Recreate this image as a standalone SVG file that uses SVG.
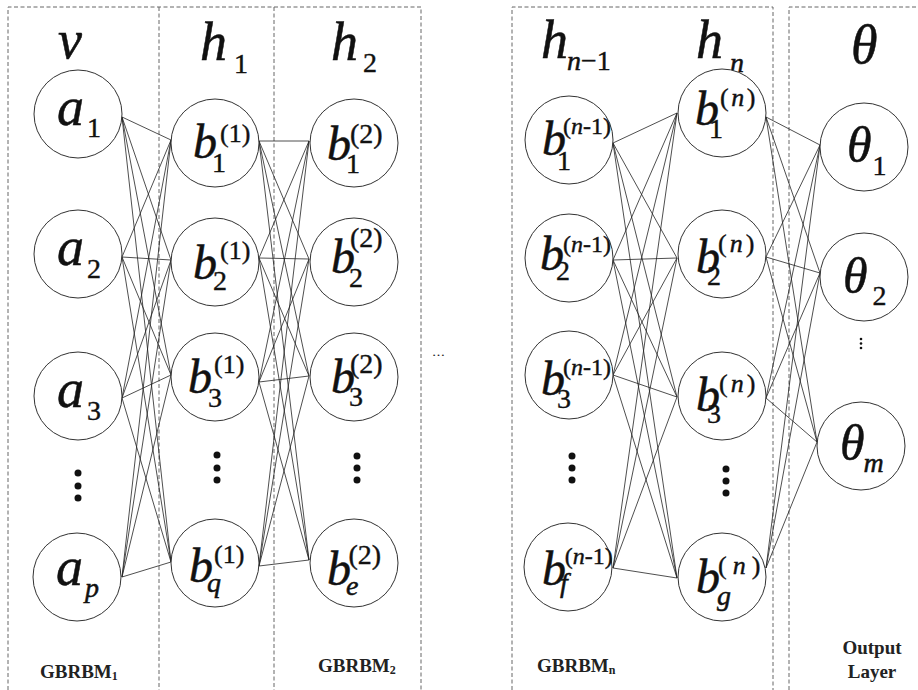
<svg xmlns="http://www.w3.org/2000/svg" width="918" height="690" viewBox="0 0 918 690">
<style>
.bg{fill:#fff}
.box{fill:none;stroke:#666;stroke-width:1;stroke-dasharray:4 2.5}
.edge{fill:none;stroke:#222;stroke-width:0.8}
.node{fill:#fff;stroke:#333;stroke-width:1}
.it{font-family:"Liberation Serif","Times New Roman",serif;font-style:italic;fill:#111;stroke:#111;stroke-width:0.5}
.rm{font-family:"Liberation Serif","Times New Roman",serif;font-style:normal;fill:#111;stroke:#111;stroke-width:0.4}
.ii{font-style:italic}
.big{font-size:54px}
.bb{font-size:48px}
.sub{font-size:28px}
.sup{font-size:26px}
.sup2{font-size:28px}
.supn{font-size:24px}
.th{font-size:50px}
.bd{font-family:"Liberation Serif","Times New Roman",serif;font-weight:bold;font-size:19px;fill:#222}
.bds{font-size:12px}
.dot{fill:#111}
</style>
<rect class="bg" x="0" y="0" width="918" height="690"/>
<g id="frames">
<path class="box" d="M8 690 V7 H421 V690 M159 7 V690 M274 7 V690"/>
<path class="box" d="M512 690 V7 H773 V690"/>
<path class="box" d="M789 690 V7 H918"/>
</g>
<g id="connectors">
<path class="edge" d="M122 117 L171 140 M122 117 L171 260 M122 117 L171 375 M122 117 L171 562"/>
<path class="edge" d="M122 257 L171 140 M122 257 L171 260 M122 257 L171 375 M122 257 L171 562"/>
<path class="edge" d="M122 398 L171 140 M122 398 L171 260 M122 398 L171 375 M122 398 L171 562"/>
<path class="edge" d="M122 577 L171 140 M122 577 L171 260 M122 577 L171 375 M122 577 L171 562"/>
<path class="edge" d="M259 141 L309 141 M259 141 L309 259 M259 141 L309 376 M259 141 L309 560"/>
<path class="edge" d="M259 258 L309 141 M259 258 L309 259 M259 258 L309 376 M259 258 L309 560"/>
<path class="edge" d="M259 382 L309 141 M259 382 L309 259 M259 382 L309 376 M259 382 L309 560"/>
<path class="edge" d="M259 566 L309 141 M259 566 L309 259 M259 566 L309 376 M259 566 L309 560"/>
<path class="edge" d="M613 143 L677 113 M613 143 L677 258 M613 143 L677 397 M613 143 L677 578"/>
<path class="edge" d="M613 260 L677 113 M613 260 L677 258 M613 260 L677 397 M613 260 L677 578"/>
<path class="edge" d="M613 375 L677 113 M613 375 L677 258 M613 375 L677 397 M613 375 L677 578"/>
<path class="edge" d="M613 568 L677 113 M613 568 L677 258 M613 568 L677 397 M613 568 L677 578"/>
<path class="edge" d="M766 117 L820 145 M766 117 L820 273 M766 117 L817 442"/>
<path class="edge" d="M766 257 L820 145 M766 257 L820 273 M766 257 L817 442"/>
<path class="edge" d="M766 398 L820 145 M766 398 L820 273 M766 398 L817 442"/>
<path class="edge" d="M766 568 L820 145 M766 568 L820 273 M766 568 L817 442"/>
</g>
<g id="layer-v"><text class="it big" x="58" y="58">v</text></g>
<g id="a1"><circle class="node" cx="78" cy="114" r="44"/><text class="it big" x="57" y="125">a<tspan class="rm sub" dx="3" dy="12">1</tspan></text></g>
<g id="a2"><circle class="node" cx="78" cy="254" r="44"/><text class="it big" x="57" y="265">a<tspan class="rm sub" dx="3" dy="13">2</tspan></text></g>
<g id="a3"><circle class="node" cx="78" cy="396" r="44"/><text class="it big" x="57" y="407">a<tspan class="rm sub" dx="3" dy="13">3</tspan></text></g>
<g id="ap"><circle class="node" cx="77" cy="577" r="44"/><text class="it big" x="56" y="585">a<tspan class="sub" dx="2" dy="12">p</tspan></text></g>
<g id="v-dots"><circle class="dot" cx="78" cy="473" r="3.5"/><circle class="dot" cx="78" cy="486" r="3.5"/><circle class="dot" cx="78" cy="498" r="3.5"/></g>

<g id="layer-h1"><text class="it big" x="200" y="60">h<tspan class="rm sub" dx="7" dy="13">1</tspan></text></g>
<g id="b1_1"><circle class="node" cx="215" cy="143" r="44"/><text class="it bb" x="193" y="158">b<tspan class="rm sub" dx="-5" dy="14">1</tspan><tspan class="rm sup" dx="-6" dy="-30">(1)</tspan></text></g>
<g id="b2_1"><circle class="node" cx="215" cy="262" r="44"/><text class="it bb" x="193" y="279">b<tspan class="rm sub" dx="-4" dy="11">2</tspan><tspan class="rm sup" dx="-7" dy="-31">(1)</tspan></text></g>
<g id="b3_1"><circle class="node" cx="215" cy="377" r="44"/><text class="it bb" x="188" y="393">b<tspan class="rm sub" dx="-4" dy="14">3</tspan><tspan class="rm sup" dx="-8" dy="-34">(1)</tspan></text></g>
<g id="bq_1"><circle class="node" cx="215" cy="563" r="44"/><text class="it bb" x="189" y="582">b<tspan class="sub" dx="-6" dy="10">q</tspan><tspan class="rm sup" dx="-7" dy="-29">(1)</tspan></text></g>
<g id="h1-dots"><circle class="dot" cx="217" cy="455" r="3.5"/><circle class="dot" cx="217" cy="468" r="3.5"/><circle class="dot" cx="217" cy="480" r="3.5"/></g>

<g id="layer-h2"><text class="it big" x="331" y="60">h<tspan class="rm sub" dx="5" dy="12">2</tspan></text></g>
<g id="b1_2"><circle class="node" cx="354" cy="143" r="44"/><text class="it bb" x="327" y="160">b<tspan class="rm sub" dx="-5" dy="13">1</tspan><tspan class="rm sup2" dx="-10" dy="-30">(2)</tspan></text></g>
<g id="b2_2"><circle class="node" cx="354" cy="262" r="44"/><text class="it bb" x="331" y="273">b<tspan class="rm sub" dx="-6" dy="14">2</tspan><tspan class="rm sup2" dx="-13" dy="-40">(2)</tspan></text></g>
<g id="b3_2"><circle class="node" cx="354" cy="377" r="44"/><text class="it bb" x="331" y="393">b<tspan class="rm sub" dx="-6" dy="13">3</tspan><tspan class="rm sup2" dx="-13" dy="-33">(2)</tspan></text></g>
<g id="be_2"><circle class="node" cx="354" cy="563" r="44"/><text class="it bb" x="327" y="585">b<tspan class="sub" dx="-5" dy="10">e</tspan><tspan class="rm sup2" dx="-10" dy="-31">(2)</tspan></text></g>
<g id="h2-dots"><circle class="dot" cx="357" cy="456" r="3.5"/><circle class="dot" cx="357" cy="468" r="3.5"/><circle class="dot" cx="357" cy="480" r="3.5"/></g>

<g id="ellipsis"><text class="rm" x="432" y="356" style="font-size:13px;stroke-width:0.2">…</text></g>

<g id="layer-hn1"><text class="it big" x="541" y="58">h<tspan class="sub" dx="-1" dy="12">n</tspan><tspan class="rm sub">−1</tspan></text></g>
<g id="b1_n1"><circle class="node" cx="569" cy="140" r="44"/><text class="it bb" x="542" y="155">b<tspan class="rm sub" dx="-9" dy="15">1</tspan><tspan class="rm supn" dx="-8" dy="-36">(<tspan class="ii">n</tspan>-1)</tspan></text></g>
<g id="b2_n1"><circle class="node" cx="569" cy="258" r="44"/><text class="it bb" x="540" y="270">b<tspan class="rm sub" dx="-8" dy="10">2</tspan><tspan class="rm supn" dx="-7" dy="-28">(<tspan class="ii">n</tspan>-1)</tspan></text></g>
<g id="b3_n1"><circle class="node" cx="569" cy="375" r="44"/><text class="it bb" x="541" y="395">b<tspan class="rm sub" dx="-8" dy="13">3</tspan><tspan class="rm supn" dx="-8" dy="-33">(<tspan class="ii">n</tspan>-1)</tspan></text></g>
<g id="bf_n1"><circle class="node" cx="568" cy="567" r="44"/><text class="it bb" x="542" y="585">b<tspan class="sub" dx="-6" dy="7">f</tspan><tspan class="rm supn" dx="-3" dy="-28">(<tspan class="ii">n</tspan>-1)</tspan></text></g>
<g id="hn1-dots"><circle class="dot" cx="572" cy="456" r="3.5"/><circle class="dot" cx="572" cy="468" r="3.5"/><circle class="dot" cx="572" cy="480" r="3.5"/></g>

<g id="layer-hn"><text class="it big" x="696" y="58">h<tspan class="sub" dx="7" dy="14">n</tspan></text></g>
<g id="b1_n"><circle class="node" cx="722" cy="113" r="44"/><text class="it bb" x="695" y="125">b<tspan class="rm sub" dx="-10" dy="13">1</tspan><tspan class="rm sup" dx="-3" dy="-32" style="letter-spacing:2.5px">(<tspan class="ii">n</tspan>)</tspan></text></g>
<g id="b2_n"><circle class="node" cx="722" cy="254" r="44"/><text class="it bb" x="696" y="273">b<tspan class="rm sub" dx="-13" dy="12">2</tspan><tspan class="rm sup" dx="-3" dy="-33" style="letter-spacing:3px">(<tspan class="ii">n</tspan>)</tspan></text></g>
<g id="b3_n"><circle class="node" cx="722" cy="396" r="44"/><text class="it bb" x="696" y="411">b<tspan class="rm sub" dx="-13" dy="12">3</tspan><tspan class="rm sup" dx="-2" dy="-31" style="letter-spacing:3px">(<tspan class="ii">n</tspan>)</tspan></text></g>
<g id="bg_n"><circle class="node" cx="722" cy="577" r="44"/><text class="it bb" x="696" y="593">b<tspan class="sub" dx="-3" dy="12">g</tspan><tspan class="rm sup" dx="-13" dy="-31" style="letter-spacing:6px">(<tspan class="ii">n</tspan>)</tspan></text></g>
<g id="hn-dots"><circle class="dot" cx="726" cy="469" r="3.5"/><circle class="dot" cx="726" cy="481" r="3.5"/><circle class="dot" cx="726" cy="493" r="3.5"/></g>

<g id="layer-theta"><text class="it big" x="851" y="63">θ</text></g>
<g id="theta1"><circle class="node" cx="864" cy="147" r="44"/><text class="it th" x="847" y="162">θ<tspan class="rm sub" dx="1" dy="13">1</tspan></text></g>
<g id="theta2"><circle class="node" cx="864" cy="277" r="44"/><text class="it th" x="843" y="293">θ<tspan class="rm sub" dx="5" dy="12">2</tspan></text></g>
<g id="thetam"><circle class="node" cx="861" cy="446" r="44"/><text class="it th" x="840" y="460">θ<tspan class="sub" dx="-1" dy="12">m</tspan></text></g>
<g id="theta-dots"><circle class="dot" cx="861" cy="339" r="1.3"/><circle class="dot" cx="861" cy="343.5" r="1.3"/><circle class="dot" cx="861" cy="348" r="1.3"/></g>

<g id="labels">
<text class="bd" x="40" y="678">GBRBM<tspan class="bds" dy="2">1</tspan></text>
<text class="bd" x="318" y="672">GBRBM<tspan class="bds" dy="2">2</tspan></text>
<text class="bd" x="537" y="672">GBRBM<tspan class="bds" dy="2">n</tspan></text>
<text class="bd" x="872" y="654" text-anchor="middle">Output</text>
<text class="bd" x="872" y="678" text-anchor="middle">Layer</text>
</g>
</svg>
